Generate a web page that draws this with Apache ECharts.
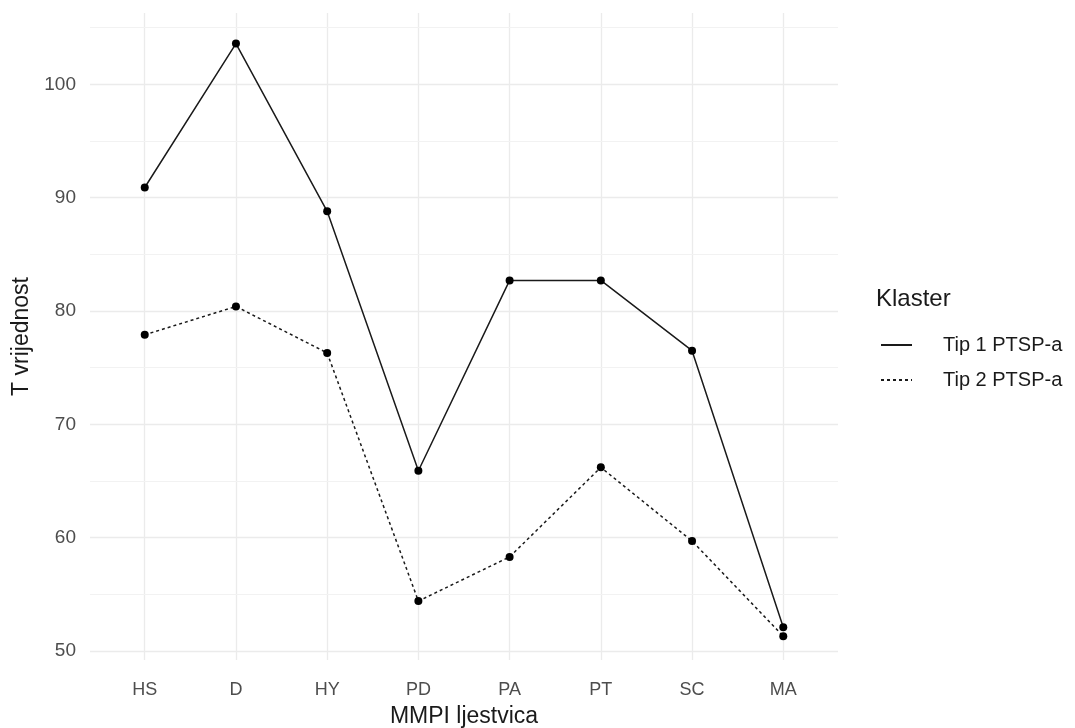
<!DOCTYPE html>
<html><head><meta charset="utf-8">
<script src="https://cdn.jsdelivr.net/npm/echarts@6/dist/echarts.min.js"></script>
<style>html,body{margin:0;padding:0;background:#fff}#c{width:1075px;height:728px}</style>
</head><body><div id="c"></div>
<script>
const categories = ['HS','D','HY','PD','PA','PT','SC','MA'];
const tip1 = [90.9, 103.6, 88.8, 65.9, 82.7, 82.7, 76.5, 52.1];
const tip2 = [77.9, 80.4, 76.3, 54.4, 58.3, 66.2, 59.7, 51.3];
const yTicks = [50, 60, 70, 80, 90, 100];
const yMinor = [55, 65, 75, 85, 95, 105];
const seriesNames = ['Tip 1 PTSP-a', 'Tip 2 PTSP-a'];

const chart = echarts.init(document.getElementById('c'));
const font = 'Liberation Sans, Arial, sans-serif';
const gridLines = [];
categories.forEach((c,i)=>gridLines.push({xAxis:i, lineStyle:{color:'#ebebeb',width:1.3,type:'solid'}}));
yTicks.forEach(v=>gridLines.push({yAxis:v, lineStyle:{color:'#ebebeb',width:1.3,type:'solid'}}));
yMinor.forEach(v=>gridLines.push({yAxis:v, lineStyle:{color:'#f2f2f2',width:1,type:'solid'}}));

chart.setOption({
  animation:false,
  grid:{left:90, right:237, top:13, bottom:68, containLabel:false, outerBoundsMode:'none'},
  title:{text:'Klaster', left:876, top:287, padding:0, textStyle:{fontFamily:font, fontSize:24, fontWeight:'normal', color:'#1a1a1a'}},
  legend:{orient:'vertical', left:880, top:335, padding:0, itemGap:15, itemWidth:31, itemHeight:14,
    itemStyle:{opacity:0},
    textStyle:{fontFamily:font, fontSize:20, color:'#1a1a1a', padding:[0,0,0,26]},
    data:seriesNames},
  xAxis:{type:'value', min:-0.6, max:7.6,
    name:'MMPI ljestvica', nameLocation:'middle', nameGap:45,
    nameTextStyle:{fontFamily:font, fontSize:23, color:'#1a1a1a'},
    axisLine:{show:false}, axisTick:{show:false}, splitLine:{show:false},
    axisLabel:{customValues:categories.map((c,i)=>i), formatter:v=>categories[Math.round(v)], fontFamily:font, fontSize:18, color:'#4d4d4d', margin:21}},
  yAxis:{type:'value', min:49.2, max:106.3,
    name:'T vrijednost', nameLocation:'middle', nameGap:57, nameRotate:90,
    nameTextStyle:{fontFamily:font, fontSize:23, color:'#1a1a1a'},
    axisLine:{show:false}, axisTick:{show:false}, splitLine:{show:false},
    axisLabel:{customValues:yTicks, fontFamily:font, fontSize:19, color:'#4d4d4d', margin:14}},
  series:[
    {name:seriesNames[0], type:'line', data:tip1.map((v,i)=>[i,v]), symbol:'circle', symbolSize:8,
     itemStyle:{color:'#000'}, lineStyle:{color:'#1a1a1a', width:1.5, type:'solid'},
     markLine:{silent:true, symbol:'none', label:{show:false}, z:0, data:gridLines}, z:3},
    {name:seriesNames[1], type:'line', data:tip2.map((v,i)=>[i,v]), symbol:'circle', symbolSize:8,
     itemStyle:{color:'#000'}, lineStyle:{color:'#1a1a1a', width:1.5, type:[3,3]}, z:3}
  ]
});
</script></body></html>
